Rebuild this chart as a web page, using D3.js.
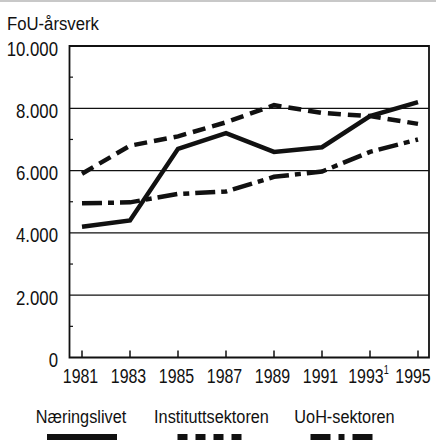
<!DOCTYPE html>
<html>
<head>
<meta charset="utf-8">
<script src="https://cdn.jsdelivr.net/npm/d3@7"></script>
<style>
  body { margin: 0; background: #fff; }
  text { font-family: "Liberation Sans", Arial, sans-serif; fill: #111; }
</style>
</head>
<body>
<div id="chart"></div>
<script>
// data
var years = [1981, 1983, 1985, 1987, 1989, 1991, 1993, 1995]
var naeringslivet = [4200, 4400, 6700, 7200, 6600, 6750, 7750, 8200]
var instituttsektoren = [5900, 6800, 7100, 7550, 8100, 7850, 7750, 7500]
var uohsektoren = [4950, 4980, 5250, 5330, 5800, 5970, 6600, 7000]
var seriesNames = ["Næringslivet", "Instituttsektoren", "UoH-sektoren"]
var yTicks = [0, 2000, 4000, 6000, 8000, 10000]
var yMinor = [1000, 3000, 5000, 7000, 9000]

var width = 436
var height = 440
// plot box
var pLeft = 69.5, pRight = 429, pTop = 46, pBottom = 357.5

var svg = d3.select("#chart")
  .append("svg")
    .attr("width", width)
    .attr("height", height)

// faint strip along the top edge
svg.append("rect")
  .attr("x", 0).attr("y", 0).attr("width", width).attr("height", 2)
  .attr("fill", "#c8c8c8")

var x = d3.scaleLinear().domain([1981, 1995]).range([82, 418])
var y = d3.scaleLinear().domain([0, 10000]).range([pBottom, pTop])

var fmt = function(v) { return d3.format(",")(v).replace(/,/g, ".") }

// narrow look: squeeze the text horizontally
function place(xx, yy, sx) {
  return "translate(" + xx + "," + yy + ") scale(" + sx + ",1)"
}

// title
svg.append("text")
  .attr("transform", place(7, 30, 0.88))
  .attr("font-size", 19)
  .text("FoU-årsverk")

// gridlines
svg.selectAll(".grid")
  .data(yTicks.filter(d => d > 0 && d < 10000))
  .enter().append("line")
    .attr("x1", pLeft).attr("x2", pRight)
    .attr("y1", d => y(d)).attr("y2", d => y(d))
    .attr("stroke", "#111").attr("stroke-width", 1.2)

// minor ticks on the y axis
svg.selectAll(".minor")
  .data(yMinor)
  .enter().append("line")
    .attr("x1", pLeft).attr("x2", pLeft + 3.5)
    .attr("y1", d => y(d)).attr("y2", d => y(d))
    .attr("stroke", "#111").attr("stroke-width", 1.2)

// x ticks
svg.selectAll(".xtick")
  .data(years)
  .enter().append("line")
    .attr("x1", d => x(d)).attr("x2", d => x(d))
    .attr("y1", pBottom).attr("y2", pBottom - 7)
    .attr("stroke", "#111").attr("stroke-width", 1.5)

// frame
svg.append("path")
  .attr("d", "M" + pLeft + "," + pBottom + "V" + pTop + "H" + pRight + "V" + pBottom + "Z")
  .attr("fill", "none").attr("stroke", "#111").attr("stroke-width", 1.8)

// y labels
svg.selectAll(".ylab")
  .data(yTicks)
  .enter().append("text")
    .attr("transform", d => place(58, y(d) + 2, 0.8))
    .attr("dy", "0.36em")
    .attr("text-anchor", "end")
    .attr("font-size", 21)
    .text(d => fmt(d))

// x labels
var xl = svg.selectAll(".xlab")
  .data(years)
  .enter().append("text")
    .attr("transform", (d, i) => place(x(d) - (i == years.length - 1 ? 5 : 1.5), 383, 0.76))
    .attr("text-anchor", "middle")
    .attr("font-size", 21)
    .text(d => d)
xl.filter(d => d == 1993).append("tspan")
  .attr("font-size", 12).attr("dy", -9).text("1")

// lines
var styles = [
  { dash: null, width: 4.5 },
  { dash: "13,7", width: 4.5 },
  { dash: "20,6,6,6", width: 4.5 }
]
var allSeries = [naeringslivet, instituttsektoren, uohsektoren]

var line = d3.line()
  .x((d, i) => x(years[i]))
  .y(d => y(d))

svg.selectAll(".series")
  .data(allSeries)
  .enter().append("path")
    .attr("d", d => line(d))
    .attr("fill", "none")
    .attr("stroke", "#111")
    .attr("stroke-width", (d, i) => styles[i].width)
    .attr("stroke-dasharray", (d, i) => styles[i].dash)

// legend
var legX = [81, 211.5, 344.5]
var legDash = [null, "10,8", "20,8,6,8"]
var leg = svg.selectAll(".leg")
  .data(seriesNames)
  .enter().append("g")
    .attr("transform", (d, i) => "translate(" + legX[i] + ",0)")
leg.append("text")
  .attr("transform", place(0, 423, 0.88))
  .attr("text-anchor", "middle")
  .attr("font-size", 18.5)
  .text(d => d)
leg.append("line")
  .attr("x1", -34).attr("x2", 36)
  .attr("y1", 439).attr("y2", 439)
  .attr("stroke", "#111").attr("stroke-width", 10)
  .attr("stroke-dasharray", (d, i) => legDash[i])
</script>
</body>
</html>
